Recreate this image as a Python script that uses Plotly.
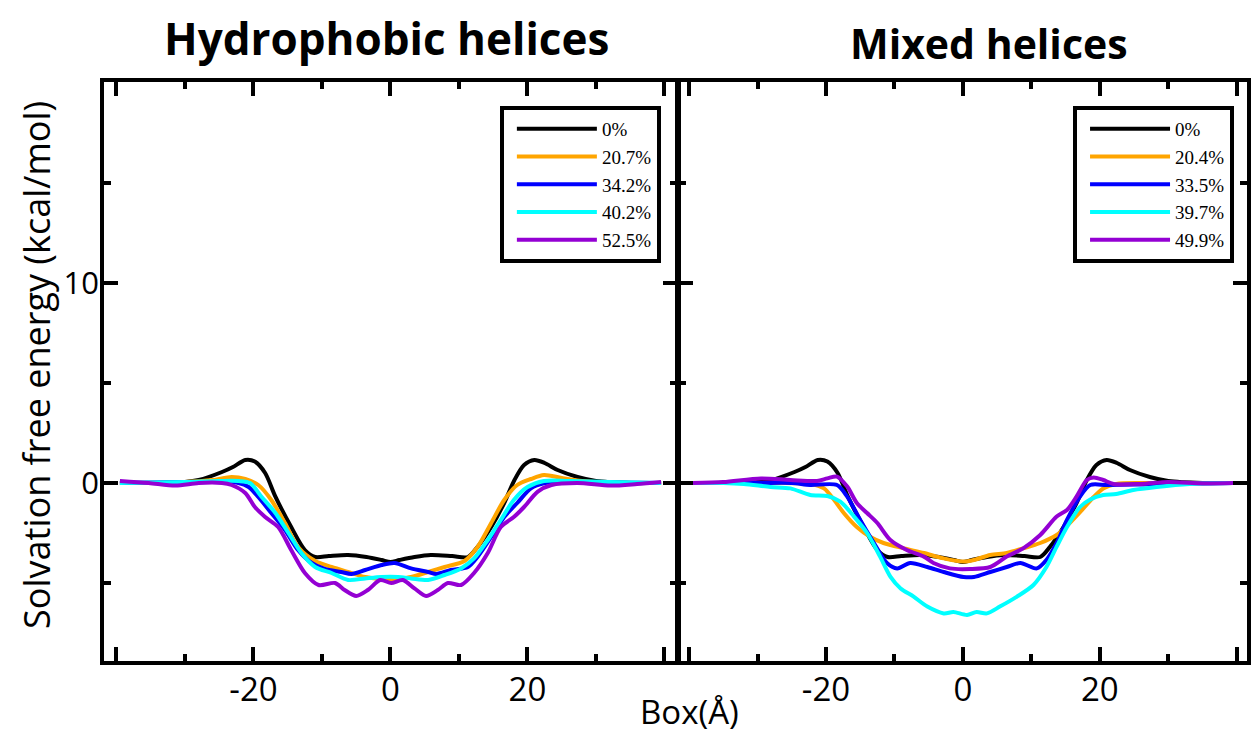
import plotly.graph_objects as go

# ---------------- data ----------------
labels_left = ["0%", "20.7%", "34.2%", "40.2%", "52.5%"]
labels_right = ["0%", "20.4%", "33.5%", "39.7%", "49.9%"]
colors = ["#000000", "#FFA500", "#0000FF", "#00FFFF", "#9400D3"]

# 0% (same curve in both panels)
black_x = [-39.5, -35, -30, -28, -24.6, -23, -21.2, -19.8, -18.3, -16.8, -14.5, -12.5, -11, -9, -6.2, -3.5,
           -1.3, 0, 1.3, 3.5, 5.9, 9, 11.3, 12.7, 14.7, 16.6, 18.1, 19.5, 21, 22.5, 24.4, 27.3, 30, 35, 39.5]
black_y = [0, 0, 0.05, 0.15, 0.55, 0.8, 1.15, 1.07, 0.5, -0.68, -2.2, -3.35, -3.7, -3.65, -3.6, -3.7,
           -3.85, -3.95, -3.85, -3.7, -3.6, -3.65, -3.7, -3.2, -2.2, -1.0, 0.15, 0.9, 1.15, 1.0, 0.65, 0.3, 0.1, 0, 0]

# Hydrophobic helices
orange_l_x = [-39.5, -30, -26, -23.2, -21.2, -19.3, -17.4, -15.4, -13.5, -11, -8.6, -6.2, -3.7, -1.4, 0, 1.1,
              3.0, 5.5, 7.9, 10.8, 12.7, 14.7, 16.6, 18.5, 20.5, 22.4, 25, 28, 32, 39.5]
orange_l_y = [0, 0.05, 0.15, 0.3, 0.2, -0.1, -0.85, -2.0, -3.2, -3.9, -4.2, -4.45, -4.7, -4.8, -4.85, -4.8,
              -4.7, -4.45, -4.2, -3.9, -3.2, -2.0, -0.85, -0.1, 0.2, 0.4, 0.25, 0.1, 0.02, 0]

blue_l_x = [-39.5, -30, -25, -22.2, -20.7, -19.3, -17.4, -15.4, -13.5, -11.5, -9.6, -7.2, -5.7, -3.7, -1.3, 0.6,
            3.0, 5.5, 6.7, 8.8, 11.3, 12.7, 14.7, 16.6, 18.5, 20.5, 22.4, 26, 32, 39.5]
blue_l_y = [0, 0.05, 0.05, 0, -0.2, -0.7, -1.5, -2.35, -3.35, -4.0, -4.3, -4.45, -4.55, -4.35, -4.1, -4.0,
            -4.27, -4.45, -4.55, -4.35, -4.2, -3.7, -2.7, -1.7, -1.0, -0.27, -0.02, 0.05, 0.02, 0]

cyan_l_x = [-39.5, -30, -25, -22.2, -20.5, -18.8, -16.8, -14.9, -13, -11, -8.6, -6.2, -3.7, -1.3, 1.1, 3.0,
            5.5, 7.9, 10.3, 12.2, 14.2, 16.1, 18.0, 20, 22.4, 26, 32, 39.5]
cyan_l_y = [0, 0.05, 0.1, 0.1, 0.0, -0.7, -1.5, -2.5, -3.5, -4.2, -4.5, -4.85, -4.77, -4.7, -4.7, -4.77,
            -4.85, -4.6, -4.27, -3.77, -2.85, -1.85, -0.85, -0.2, 0.1, 0.1, 0.05, 0]

purple_l_x = [-39.5, -35.3, -31.4, -28, -24.6, -23.2, -21.2, -19.8, -18.3, -16.4, -14.5, -12.5, -10.5, -8.1,
              -6.7, -5.0, -3.3, -1.5, 0.1, 1.8, 3.5, 5.2, 6.9, 8.4, 10.3, 12.2, 14.2, 16.1, 18.0, 19.5, 21.5,
              23.5, 27.3, 32.1, 36, 39.5]
purple_l_y = [0.1, 0, -0.13, 0, 0, -0.1, -0.5, -1.2, -1.7, -2.2, -3.35, -4.5, -5.1, -5.0,
              -5.35, -5.65, -5.35, -4.85, -5.0, -4.85, -5.27, -5.65, -5.35, -5.0, -5.1, -4.5, -3.5, -2.2, -1.7,
              -1.2, -0.43, -0.1, 0, -0.13, -0.05, 0.05]

# Mixed helices
orange_r_x = [-39.5, -30, -27.1, -22.3, -20.3, -18.8, -17.4, -15.5, -13.5, -11.6, -8.6, -5.7, -2.8, 0.1, 1.6,
              4.0, 6.4, 8.8, 11.3, 13.7, 15.6, 17.6, 19.1, 20.5, 22.4, 26, 32, 39.5]
orange_r_y = [0, 0, 0, -0.05, -0.27, -0.85, -1.5, -2.2, -2.7, -3.0, -3.27, -3.5, -3.77, -3.93, -3.85,
              -3.6, -3.5, -3.27, -3.0, -2.6, -2.0, -1.27, -0.7, -0.27, -0.05, 0, 0, 0]

blue_r_x = [-39.5, -30, -25, -22.3, -18.4, -16.9, -15.0, -13.0, -11.1, -9.6, -7.7, -5.2, -2.8, 0.1, 1.6, 4.0,
            6.4, 8.4, 10.8, 12.2, 13.7, 15.2, 17.1, 18.6, 21.0, 25, 30, 39.5]
blue_r_y = [0, 0, 0, -0.1, -0.1, -0.68, -1.85, -3.0, -4.0, -4.27, -4.0, -4.2, -4.45, -4.7, -4.7, -4.45,
            -4.2, -4.0, -4.27, -3.85, -3.0, -1.85, -0.68, -0.1, -0.1, -0.08, -0.03, 0]

cyan_r_x = [-39.5, -35, -32, -28.1, -25.2, -22.3, -19.8, -17.9, -15.9, -14.0, -12.1, -10.6, -9.1, -7.2, -5.2,
            -2.8, -1.4, 0.6, 2.0, 3.5, 5.4, 7.9, 10.3, 12.2, 13.7, 15.2, 17.1, 18.6, 20.5, 22.4, 24.9, 28.3,
            33.1, 39.5]
cyan_r_y = [0, 0, -0.05, -0.2, -0.27, -0.6, -0.65, -0.93, -1.68, -2.5, -3.68, -4.68, -5.27, -5.68, -6.18,
            -6.52, -6.45, -6.6, -6.45, -6.52, -6.18, -5.68, -5.1, -4.2, -3.18, -2.2, -1.2, -0.82, -0.6, -0.55,
            -0.35, -0.2, -0.05, 0]

purple_r_x = [-39.5, -35, -29.5, -25.2, -21.3, -19.8, -18.4, -16.9, -15.5, -14.0, -12.5, -10.6, -8.2, -5.7,
              -4.3, -1.9, 1.1, 4.0, 6.4, 8.8, 11.3, 13.7, 15.2, 16.6, 18.1, 19.1, 20.5, 22.0, 26, 30, 35, 39.5]
purple_r_y = [0, 0.05, 0.23, 0.15, 0.1, 0.23, 0.32, -0.18, -1.0, -1.5, -2.0, -2.85, -3.35, -3.68,
              -4.0, -4.27, -4.3, -4.2, -3.68, -3.27, -2.6, -1.68, -1.35, -0.68, 0.15, 0.28, 0.15, -0.05, -0.05,
              0.05, -0.02, 0]

x_tickvals = [-40, -20, 0, 20, 40]
x_ticktext = ["", "-20", "0", "20", ""]
x_minor = [-30, -10, 10, 30]
y_tickvals = [0, 10]
y_ticktext = ["0", "10"]
y_minor = [-5, 5, 15]

titles = ["Hydrophobic helices", "Mixed helices"]
y_title = "Solvation free energy (kcal/mol)"
x_title = "Box(Å)"

# ---------------- figure ----------------
W, H = 1251, 736
L_left, L_right = 104.5, 679.0
R_left, R_right = 681.0, 1251.0
TOP, BOT = 82.0, 661.0

left_series = [(black_x, black_y), (orange_l_x, orange_l_y), (blue_l_x, blue_l_y),
               (cyan_l_x, cyan_l_y), (purple_l_x, purple_l_y)]
right_series = [(black_x, black_y), (orange_r_x, orange_r_y), (blue_r_x, blue_r_y),
                (cyan_r_x, cyan_r_y), (purple_r_x, purple_r_y)]

fig = go.Figure()
for (xs, ys), name, c in zip(left_series, labels_left, colors):
    fig.add_trace(go.Scatter(x=xs, y=ys, mode="lines", name=name, xaxis="x", yaxis="y",
                             legend="legend",
                             line=dict(color=c, width=4, shape="spline", smoothing=0.8)))
for (xs, ys), name, c in zip(right_series, labels_right, colors):
    fig.add_trace(go.Scatter(x=xs, y=ys, mode="lines", name=name, xaxis="x2", yaxis="y2",
                             legend="legend2",
                             line=dict(color=c, width=4, shape="spline", smoothing=0.8)))

xtickfont = dict(family="Open Sans", size=33, color="black")
ytickfont = dict(family="Open Sans", size=31, color="black")


def xaxis_style(domain, rng):
    return dict(domain=domain, range=rng, showline=True, linewidth=4, linecolor="black",
                mirror="ticks", ticks="inside", ticklen=14, tickwidth=3.5, tickcolor="black",
                tickmode="array", tickvals=x_tickvals, ticktext=x_ticktext,
                showgrid=False, zeroline=False, tickfont=xtickfont, ticklabelstandoff=-4,
                minor=dict(ticks="inside", ticklen=7, tickwidth=3.5, tickcolor="black",
                           tickmode="array", tickvals=x_minor, showgrid=False))


def yaxis_style(anchor, show_labels):
    return dict(domain=[0, 1], range=[-8.9, 20.05], anchor=anchor, showline=True, linewidth=4,
                linecolor="black", mirror="ticks", ticks="inside", ticklen=14, tickwidth=3.5,
                tickcolor="black", tickmode="array", tickvals=y_tickvals, ticktext=y_ticktext,
                showticklabels=show_labels, showgrid=False, zeroline=False, tickfont=ytickfont,
                ticklabelstandoff=-5,
                minor=dict(ticks="inside", ticklen=7, tickwidth=3.5, tickcolor="black",
                           tickmode="array", tickvals=y_minor, showgrid=False))


legend_common = dict(bgcolor="white", bordercolor="black", borderwidth=4,
                     font=dict(family="Liberation Serif", size=19, color="black"),
                     xanchor="right", yanchor="top", tracegroupgap=0, itemwidth=80,
                     indentation=8)

fig.update_layout(
    width=W, height=H,
    margin=dict(l=0, r=0, t=TOP, b=H - BOT, pad=0),
    paper_bgcolor="white", plot_bgcolor="white",
    xaxis=xaxis_style([L_left / W, L_right / W], [-41.8, 41.8]),
    xaxis2=xaxis_style([R_left / W, R_right / W], [-41.5, 41.5]),
    yaxis=yaxis_style("x", True),
    yaxis2=yaxis_style("x2", False),
    legend=dict(x=663 / W, y=(BOT - 106) / (BOT - TOP), **legend_common),
    legend2=dict(x=1238 / W, y=(BOT - 106) / (BOT - TOP), **legend_common),
    annotations=[
        dict(text=titles[0], x=387.5 / W, y=(BOT - 38) / (BOT - TOP), xref="paper", yref="paper",
             xanchor="center", yanchor="middle", showarrow=False,
             font=dict(family="Open Sans", size=44, color="black", weight="bold")),
        dict(text=titles[1], x=992 / W, y=(BOT - 43) / (BOT - TOP), xref="paper", yref="paper",
             xanchor="center", yanchor="middle", showarrow=False,
             font=dict(family="Open Sans", size=41, color="black", weight="bold")),
        dict(text=y_title, x=36 / W, y=(BOT - 365) / (BOT - TOP), xref="paper", yref="paper",
             xanchor="center", yanchor="middle", showarrow=False, textangle=-90,
             font=dict(family="Open Sans", size=36, color="black")),
        dict(text=x_title, x=692 / W, y=(BOT - 711) / (BOT - TOP), xref="paper", yref="paper",
             xanchor="center", yanchor="middle", showarrow=False,
             font=dict(family="Open Sans", size=33, color="black")),
    ],
)

fig.write_html("out.html", config={"displayModeBar": False},
               post_script="document.body.style.margin='0';")
